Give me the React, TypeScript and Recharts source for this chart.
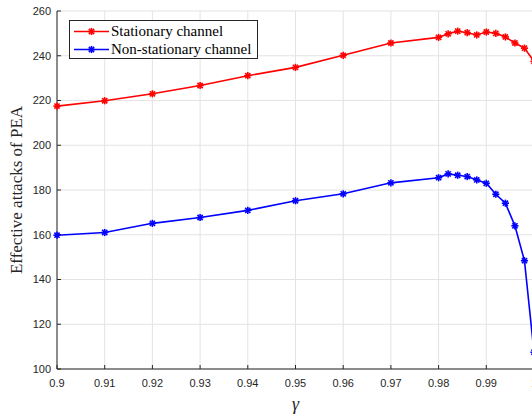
import React from 'react';
import { LineChart, Line, XAxis, YAxis, CartesianGrid } from 'recharts';

// gamma values on the x axis (denser sampling near 1)
const gammaValues = [0.9, 0.91, 0.92, 0.93, 0.94, 0.95, 0.96, 0.97, 0.98, 0.982, 0.984, 0.986, 0.988, 0.99, 0.992, 0.994, 0.996, 0.998, 1.0];
const stationary = [217.5, 219.9, 223, 226.7, 231.1, 234.8, 240.2, 245.7, 248.2, 249.8, 251, 250.3, 249.3, 250.6, 250, 248.4, 245.7, 243.4, 237.5];
const nonStationary = [159.8, 161, 165.1, 167.7, 170.9, 175.2, 178.3, 183.2, 185.5, 187.2, 186.6, 186, 184.5, 183, 178.1, 174.1, 164, 148.4, 107.5];
const seriesNames = ['Stationary channel', 'Non-stationary channel'];
const seriesColors = ['#ff0000', '#0000ff'];
const xTicks = [0.9, 0.91, 0.92, 0.93, 0.94, 0.95, 0.96, 0.97, 0.98, 0.99, 1];
const yTicks = [100, 120, 140, 160, 180, 200, 220, 240, 260];

const data = gammaValues.map((g, i) => ({ gamma: g, stat: stationary[i], nonstat: nonStationary[i] }));

const AXIS = '#262626';
const SERIF = '"Liberation Serif", "Times New Roman", serif';
const tickFont = { fontFamily: '"Liberation Sans", Arial, sans-serif', fontSize: 11, fill: AXIS };

const Star = ({ cx, cy, color }: { cx: number; cy: number; color: string }) => {
  const r = 3.6;
  const d = r * 0.72;
  return (
    <g stroke={color} strokeWidth={1.6}>
      <line x1={cx - r} y1={cy} x2={cx + r} y2={cy} />
      <line x1={cx} y1={cy - r} x2={cx} y2={cy + r} />
      <line x1={cx - d} y1={cy - d} x2={cx + d} y2={cy + d} />
      <line x1={cx - d} y1={cy + d} x2={cx + d} y2={cy - d} />
    </g>
  );
};

const makeDot = (color: string) => (p: any) => {
  if (p.cx == null || p.cy == null) return <g key={`d-${p.index}`} />;
  return <Star key={`d-${color}-${p.index}`} cx={p.cx} cy={p.cy} color={color} />;
};

const LegendBox = () => (
  <div
    style={{
      position: 'absolute',
      left: 69,
      top: 20,
      width: 189,
      height: 39,
      border: `1px solid ${AXIS}`,
      background: '#fff',
      fontFamily: SERIF,
      fontSize: 15,
      color: '#000',
      boxSizing: 'border-box',
    }}
  >
    {seriesNames.map((name, i) => (
      <div key={name} style={{ position: 'absolute', left: 3, top: 2 + i * 17.5, height: 17, display: 'flex', alignItems: 'center' }}>
        <svg width={38} height={17}>
          <line x1={1} y1={8.5} x2={36} y2={8.5} stroke={seriesColors[i]} strokeWidth={1.6} />
          <Star cx={18.5} cy={8.5} color={seriesColors[i]} />
        </svg>
        <span style={{ whiteSpace: 'nowrap', lineHeight: '17px', fontFamily: SERIF }}>{name}</span>
      </div>
    ))}
  </div>
);

export default function App() {
  return (
    <div style={{ position: 'absolute', left: 0, top: 0, width: 532, height: 414, overflow: 'hidden', background: '#fff' }}>
      <LineChart width={560} height={414} data={data} margin={{ top: 11, right: 26, bottom: 15, left: 0 }}>
        <CartesianGrid stroke="#e3e3e3" strokeWidth={1} />
        <XAxis
          dataKey="gamma"
          type="number"
          domain={[0.9, 1]}
          ticks={xTicks}
          tickFormatter={(v: number) => String(v)}
          height={30}
          stroke={AXIS}
          tickSize={-4}
          tickMargin={14}
          tick={tickFont}
          label={{ value: 'γ', position: 'insideBottom', offset: -11, style: { fontFamily: SERIF, fontStyle: 'italic', fontSize: 18, fill: AXIS } }}
        />
        <XAxis
          xAxisId="top"
          orientation="top"
          dataKey="gamma"
          type="number"
          domain={[0.9, 1]}
          ticks={xTicks}
          tickFormatter={() => ''}
          height={0}
          stroke={AXIS}
          tickSize={-4}
        />
        <YAxis
          type="number"
          domain={[100, 260]}
          ticks={yTicks}
          width={57}
          stroke={AXIS}
          tickSize={-4}
          tickMargin={10}
          tick={tickFont}
          label={{ value: 'Effective attacks of PEA', angle: -90, position: 'insideLeft', offset: 16, style: { textAnchor: 'middle', fontFamily: SERIF, fontSize: 17, fill: AXIS } }}
        />
        <Line
          dataKey="stat"
          name={seriesNames[0]}
          stroke={seriesColors[0]}
          strokeWidth={1.6}
          dot={makeDot(seriesColors[0])}
          isAnimationActive={false}
        />
        <Line
          dataKey="nonstat"
          name={seriesNames[1]}
          stroke={seriesColors[1]}
          strokeWidth={1.6}
          dot={makeDot(seriesColors[1])}
          isAnimationActive={false}
        />
      </LineChart>
      <LegendBox />
    </div>
  );
}
